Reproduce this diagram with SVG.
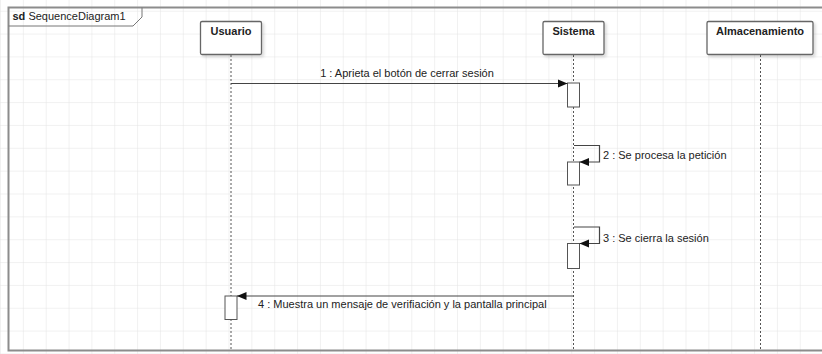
<svg xmlns="http://www.w3.org/2000/svg" width="822" height="354" viewBox="0 0 822 354">
  <defs>
    <pattern id="grid" x="0" y="10.7" width="22.85" height="22.85" patternUnits="userSpaceOnUse">
      <path d="M0,0 H22.85 M0,0 V22.85" fill="none" stroke="#e3e3e3" stroke-width="1"/>
    </pattern>
    <filter id="shadow" x="-10%" y="-10%" width="130%" height="140%">
      <feDropShadow dx="2" dy="2" stdDeviation="1.5" flood-color="#000" flood-opacity="0.15"/>
    </filter>
    <marker id="arrow" markerWidth="10" markerHeight="9" refX="9.5" refY="4.5" orient="auto" markerUnits="userSpaceOnUse">
      <path d="M0,0.5 L9.5,4.5 L0,8.5 Z" fill="#111"/>
    </marker>
  </defs>
  <style>
    text { font-family: "Liberation Sans", Arial, sans-serif; font-size: 11px; fill: #222; }
    .head { font-weight: bold; text-anchor: middle; }
    .box { fill: #fff; stroke: #666; stroke-width: 1.3; }
    .life { stroke: #555; stroke-width: 1; stroke-dasharray: 2 2; fill: none; }
    .act { fill: #fff; stroke: #555; stroke-width: 1; }
    .msg { fill: none; stroke: #444; stroke-width: 1.2; marker-end: url(#arrow); }
    .frame { fill: none; stroke: #8c8c8c; stroke-width: 2; }
  </style>

  <!-- background grid -->
  <rect width="822" height="354" fill="#fff"/>
  <rect width="822" height="354" fill="url(#grid)"/>

  <!-- diagram frame with name tab -->
  <g id="frame">
    <path class="frame" d="M830,350.5 H8.5 V7.5 H830"/>
    <path d="M8.5,26 H133 L142,17 V7.5" fill="none" stroke="#777" stroke-width="1"/>
    <text x="12.5" y="20"><tspan font-weight="bold">sd</tspan> SequenceDiagram1</text>
  </g>

  <!-- lifelines -->
  <g id="usuario">
    <line class="life" x1="231" y1="55" x2="231" y2="350"/>
    <rect class="box" x="200.5" y="21.5" width="61" height="33" rx="1.5" filter="url(#shadow)"/>
    <text class="head" x="231" y="35">Usuario</text>
  </g>
  <g id="sistema">
    <line class="life" x1="573.5" y1="55" x2="573.5" y2="350"/>
    <rect class="box" x="543" y="21.5" width="61" height="33" rx="1.5" filter="url(#shadow)"/>
    <text class="head" x="573.5" y="35">Sistema</text>
  </g>
  <g id="almacenamiento">
    <line class="life" x1="760.5" y1="55" x2="760.5" y2="350"/>
    <rect class="box" x="707" y="21.5" width="106" height="33" rx="1.5" filter="url(#shadow)"/>
    <text class="head" x="760" y="35">Almacenamiento</text>
  </g>

  <!-- activation bars -->
  <g id="activations">
    <rect class="act" x="567.5" y="83" width="12" height="24"/>
    <rect class="act" x="567.5" y="162" width="12" height="23"/>
    <rect class="act" x="567.5" y="243.5" width="12" height="25"/>
    <rect class="act" x="225" y="296" width="12" height="23.5"/>
  </g>

  <!-- messages -->
  <g id="connectors">
    <path class="msg" d="M231,83.5 H567.5"/>
    <text x="407" y="77" text-anchor="middle">1 : Aprieta el botón de cerrar sesión</text>

    <path class="msg" d="M574,145.5 H599.5 V162 H579.5"/>
    <text x="603" y="158.5">2 : Se procesa la petición</text>

    <path class="msg" d="M574,227 H599.5 V243.5 H579.5"/>
    <text x="603" y="241.5">3 : Se cierra la sesión</text>

    <path class="msg" d="M573.5,296 H237"/>
    <text x="258" y="307.5">4 : Muestra un mensaje de verifiación y la pantalla principal</text>
  </g>
</svg>
